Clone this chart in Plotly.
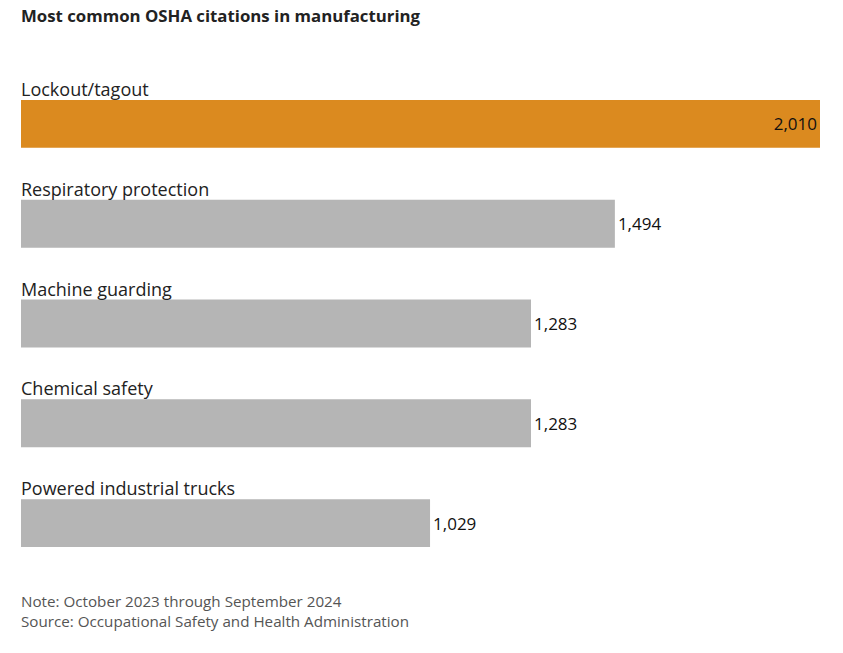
import plotly.graph_objects as go

categories = ["Lockout/tagout", "Respiratory protection", "Machine guarding",
              "Chemical safety", "Powered industrial trucks"]
values = [2010, 1494, 1283, 1283, 1029]
value_labels = ["2,010", "1,494", "1,283", "1,283", "1,029"]
colors = ["#DB8A1F", "#B5B5B5", "#B5B5B5", "#B5B5B5", "#B5B5B5"]

FONT = "Open Sans"
ypos = list(range(len(categories)))

fig = go.Figure()
fig.add_trace(go.Bar(
    x=values, y=ypos, orientation="h",
    marker=dict(color=colors, line=dict(width=0)),
    width=0.48,
    text=value_labels,
    textposition=["inside"] + ["outside"] * (len(values) - 1),
    insidetextanchor="end",
    textfont=dict(family=FONT, size=17, color="#111111"),
    cliponaxis=False,
    hoverinfo="skip",
))

anns = []
for i, c in enumerate(categories):
    anns.append(dict(
        x=0, y=i - 0.24, xref="x", yref="y", text=c, showarrow=False,
        xanchor="left", yanchor="bottom", xshift=-2, yshift=-3,
        font=dict(family=FONT, size=18, color="#222222"),
    ))
anns.append(dict(
    xref="paper", yref="paper", x=0, y=1, xanchor="left", yanchor="bottom",
    xshift=-2, yshift=45, showarrow=False,
    text="<b>Most common OSHA citations in manufacturing</b>",
    font=dict(family=FONT, size=16.8, color="#222222"),
))
anns.append(dict(
    xref="paper", yref="paper", x=0, y=0, xanchor="left", yanchor="top",
    xshift=-2, yshift=-16, showarrow=False, align="left",
    text="Note: October 2023 through September 2024<br>Source: Occupational Safety and Health Administration",
    font=dict(family=FONT, size=15.2, color="#555555"),
))

fig.update_layout(
    width=843, height=653,
    margin=dict(l=21, r=23, t=74, b=80),
    paper_bgcolor="white", plot_bgcolor="white",
    showlegend=False,
    xaxis=dict(range=[0, 2010], visible=False, fixedrange=True),
    yaxis=dict(range=[4.5, -0.5], visible=False, fixedrange=True),
    font=dict(family=FONT),
    annotations=anns,
)

fig.write_html("out.html", config={"displayModeBar": False},
               post_script="document.body.style.margin='0';")
